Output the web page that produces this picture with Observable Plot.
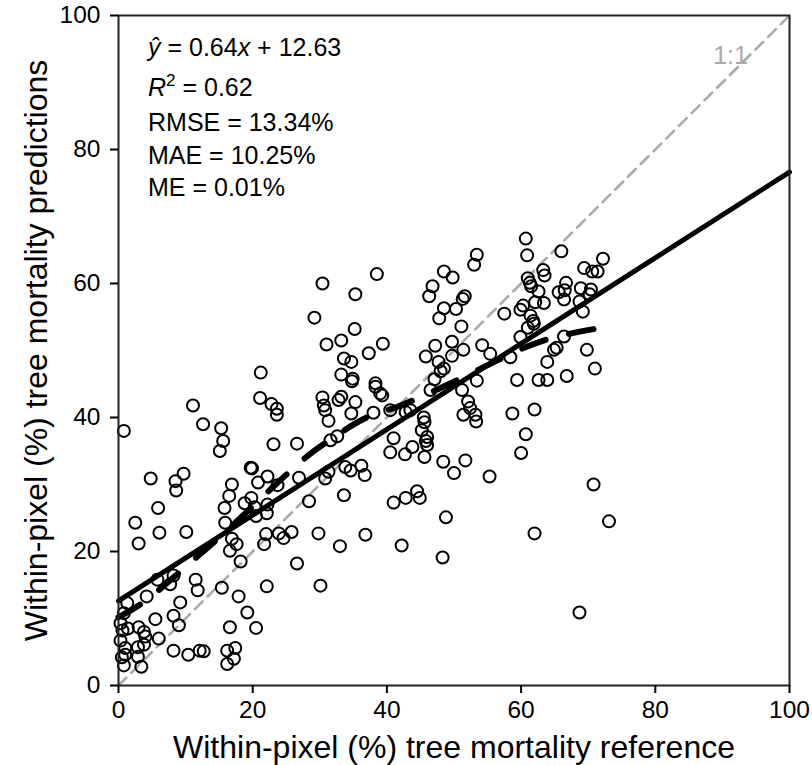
<!DOCTYPE html>
<html>
<head>
<meta charset="utf-8">
<script src="https://cdn.jsdelivr.net/npm/d3@7"></script>
<script src="https://cdn.jsdelivr.net/npm/@observablehq/plot@0.6"></script>
<style>
  body { margin: 0; background: #fff; }
  #chart svg { display: block; }
</style>
</head>
<body>
<div id="chart"></div>
<script>
// Within-pixel tree mortality: reference (x) vs. model predictions (y), in %
const refX = [
  21.2, 30.4, 38.5, 35.3, 29.2, 35.2, 33.2, 31.0, 39.4, 37.3, 33.6, 34.7, 33.2, 34.9, 38.3,
  48.5, 46.8, 46.3, 48.5, 47.8, 47.2, 45.8, 47.7, 48.0, 47.1,
  60.7, 60.9, 66.0, 53.4, 53.0, 72.2, 49.8, 69.4, 70.6, 71.4, 63.3, 63.5, 61.0, 61.3, 61.5,
  66.7, 62.6, 65.6, 66.5, 66.4, 68.9, 70.4, 70.2, 68.7, 51.6, 51.3, 62.1, 63.4, 60.3, 59.9,
  50.3, 69.2, 57.5, 61.4, 61.8, 61.9, 61.0, 51.1, 59.9, 66.4, 49.7, 51.4, 54.2, 49.7, 55.4,
  64.9, 65.3, 69.8, 58.4, 63.9, 48.5, 71.0, 66.8, 53.4, 59.4, 62.6, 63.9,
  11.1, 0.8, 12.6, 15.3, 15.6, 15.1, 21.1, 22.8, 23.6, 23.6, 23.1, 19.7, 19.9, 22.2, 20.8,
  23.7, 4.8, 8.5, 9.7, 8.6, 16.9, 16.5, 5.9, 2.5, 6.1, 10.1, 15.8, 15.9, 18.8, 19.8,
  20.3, 20.5, 22.2, 22.1, 16.9, 22.0,
  34.8, 38.3, 39.0, 39.3, 30.4, 30.6, 30.8, 32.8, 33.2, 35.3, 34.7, 38.0, 31.3, 40.5, 42.8,
  43.5, 45.5, 45.6, 45.2, 46.0, 45.8, 46.0, 45.6, 46.5, 48.4, 41.0, 40.5, 42.7, 43.8, 26.6,
  32.6, 31.6, 33.8, 34.6, 36.2, 36.7, 30.8, 31.3, 26.9, 33.6, 28.4, 41.0, 42.8, 44.5, 44.9,
  48.8, 25.8, 23.9, 24.6, 29.8, 36.8,
  3.0, 17.6, 16.6, 18.2, 21.7, 8.2, 7.7, 5.8, 11.5, 11.8, 15.4, 22.1, 4.2, 1.3, 17.9,
  9.2, 19.2, 5.5, 8.2, 9.0, 16.6, 20.5, 1.4, 0.6, 3.0, 3.8, 4.0, 6.0, 3.8, 1.0,
  1.0, 2.9, 2.9, 8.2, 10.4, 12.1, 12.7, 16.2, 17.4, 17.2, 16.2, 0.8, 3.4, 0.8, 0.3,
  0.3, 0.5,
  26.6, 33.0, 42.2, 30.1, 48.3, 62.0, 68.7,
  51.2, 52.1, 52.4, 53.2, 51.4, 53.3, 58.7, 62.0, 60.7, 60.0, 51.7, 50.0, 55.3, 70.8, 73.1
];
const predY = [
  46.7, 60.0, 61.4, 58.4, 54.9, 53.2, 51.5, 50.9, 51.0, 49.6, 48.8, 48.3, 46.4, 45.8, 45.1,
  61.8, 59.6, 58.1, 56.3, 54.8, 50.7, 49.1, 48.3, 46.9, 45.7,
  66.7, 64.2, 64.8, 64.3, 62.8, 63.7, 60.9, 62.3, 61.8, 61.8, 62.0, 61.2, 60.8, 60.1, 59.6,
  60.1, 58.8, 58.7, 59.0, 57.6, 59.3, 59.1, 58.4, 57.3, 58.1, 57.7, 57.2, 57.1, 56.7, 56.1,
  56.2, 55.8, 55.5, 55.2, 54.4, 54.0, 53.4, 53.6, 52.0, 52.1, 51.3, 50.1, 50.8, 49.2, 49.5,
  50.1, 50.4, 50.1, 49.0, 48.3, 47.3, 47.3, 46.2, 45.5, 45.6, 45.6, 45.6,
  41.8, 38.0, 39.0, 38.4, 36.5, 35.0, 42.9, 42.0, 41.3, 40.4, 36.0, 32.5, 32.4, 31.2, 30.3,
  29.9, 30.9, 30.5, 31.6, 29.1, 30.0, 28.3, 26.5, 24.3, 22.8, 22.9, 26.5, 24.3, 27.2, 28.0,
  26.6, 25.3, 27.0, 25.7, 21.9, 22.6,
  45.4, 44.6, 43.6, 43.3, 43.0, 41.8, 41.1, 42.6, 43.1, 42.3, 40.6, 40.7, 39.5, 41.1, 40.8,
  41.1, 40.0, 39.3, 38.1, 37.1, 36.5, 35.9, 34.1, 44.1, 33.4, 36.9, 34.8, 34.5, 35.6, 36.1,
  37.2, 36.6, 32.6, 32.1, 32.8, 31.4, 30.9, 31.9, 31.0, 28.4, 27.5, 27.3, 28.0, 29.0, 28.0,
  25.1, 22.9, 22.7, 22.0, 22.7, 22.5,
  21.2, 21.1, 20.1, 18.5, 21.1, 16.4, 15.1, 15.8, 15.8, 14.2, 14.6, 14.8, 13.3, 12.3, 13.3,
  12.4, 10.9, 9.9, 10.4, 9.0, 8.7, 8.6, 8.5, 8.2, 8.7, 8.0, 7.3, 7.0, 6.1, 5.6,
  4.6, 5.7, 4.3, 5.2, 4.6, 5.2, 5.1, 5.2, 5.6, 4.0, 3.2, 3.0, 2.8, 10.8, 9.3,
  6.7, 4.2,
  18.2, 20.8, 20.9, 14.9, 19.1, 22.7, 10.9,
  44.1, 42.4, 41.4, 40.4, 40.4, 39.4, 40.6, 41.2, 37.5, 34.7, 33.6, 31.7, 31.2, 30.0, 24.5
];

// Smoothed trend of predictions along the reference axis
const trendX = [0, 3, 6, 9, 12, 15, 19, 23, 26, 29, 32, 35, 38, 41, 44, 48, 52, 56, 60, 64, 68, 72];
const trendY = [10.2, 11.8, 14.2, 16.8, 19.5, 22.0, 25.8, 29.6, 32.4, 35.0, 37.0, 39.0, 40.6, 41.3, 42.6, 44.4, 46.3, 48.3, 50.3, 51.8, 52.7, 53.4];

// Linear fit and its statistics
const slope = 0.64;
const intercept = 12.63;
const stats = { r2: "0.62", rmse: "13.34%", mae: "10.25%", me: "0.01%" };

const axisTicks = [0, 20, 40, 60, 80, 100];
const axisRange = [0, 100];
const xTitle = "Within-pixel (%) tree mortality reference";
const yTitle = "Within-pixel (%) tree mortality predictions";

const points = refX.map((x, i) => ({ x, y: predY[i] }));
const trend = trendX.map((x, i) => ({ x, y: trendY[i] }));
const fit = axisRange.map(x => ({ x, y: slope * x + intercept }));

const font = "'Liberation Sans', Arial, Helvetica, sans-serif";

const chart = Plot.plot({
  width: 812,
  height: 765,
  marginLeft: 118,
  marginRight: 23,
  marginTop: 15,
  marginBottom: 80,
  style: { fontFamily: font, background: "white", color: "black" },
  x: { domain: axisRange },
  y: { domain: axisRange },
  marks: [
    // 1:1 reference line
    Plot.line(axisRange, { x: d => d, y: d => d, stroke: "#aaaaaa", strokeWidth: 2.6, strokeDasharray: "11,7" }),
    Plot.dot(points, { x: "x", y: "y", r: 6, stroke: "black", strokeWidth: 2, fill: "none" }),
    Plot.line(fit, { x: "x", y: "y", stroke: "black", strokeWidth: 5 }),
    Plot.line(trend, { x: "x", y: "y", stroke: "black", strokeWidth: 6, strokeDasharray: "25,24", curve: "basis" }),
    Plot.frame({ stroke: "#222", strokeWidth: 2 }),
    Plot.axisX({ ticks: axisTicks, tickSize: 8, tickPadding: 7, fontSize: 24.5, strokeWidth: 2, label: null }),
    Plot.axisY({ ticks: axisTicks, tickSize: 8, tickPadding: 10, fontSize: 24.5, strokeWidth: 2, label: null }),
    Plot.text([xTitle], { text: d => d, frameAnchor: "bottom", lineAnchor: "middle", dy: 62, fontSize: 32 }),
    Plot.text([yTitle], { text: d => d, frameAnchor: "left", textAnchor: "middle", lineAnchor: "middle", dx: -82, rotate: -90, fontSize: 32 }),
    Plot.text(["1:1"], { text: d => d, frameAnchor: "top-right", textAnchor: "middle", lineAnchor: "middle", dx: -59, dy: 40, fill: "#aaaaaa", fontSize: 25 })
  ]
});

// Fit statistics in the upper-left corner
const note = d3.select(chart).append("g")
  .attr("font-family", font)
  .attr("font-size", 25)
  .attr("text-anchor", "start")
  .attr("fill", "black");

const l1 = note.append("text").attr("x", 148).attr("y", 56);
l1.append("tspan").attr("font-style", "italic").text("ŷ");
l1.append("tspan").text(` = ${slope}`);
l1.append("tspan").attr("font-style", "italic").text("x");
l1.append("tspan").text(` + ${intercept}`);

const l2 = note.append("text").attr("x", 148).attr("y", 96);
l2.append("tspan").attr("font-style", "italic").text("R");
l2.append("tspan").attr("font-size", 17).attr("dy", -10).text("2");
l2.append("tspan").attr("dy", 10).text(` = ${stats.r2}`);

note.append("text").attr("x", 148).attr("y", 131).text(`RMSE = ${stats.rmse}`);
note.append("text").attr("x", 148).attr("y", 164).text(`MAE = ${stats.mae}`);
note.append("text").attr("x", 148).attr("y", 196).text(`ME = ${stats.me}`);

document.getElementById("chart").appendChild(chart);
</script>
</body>
</html>
